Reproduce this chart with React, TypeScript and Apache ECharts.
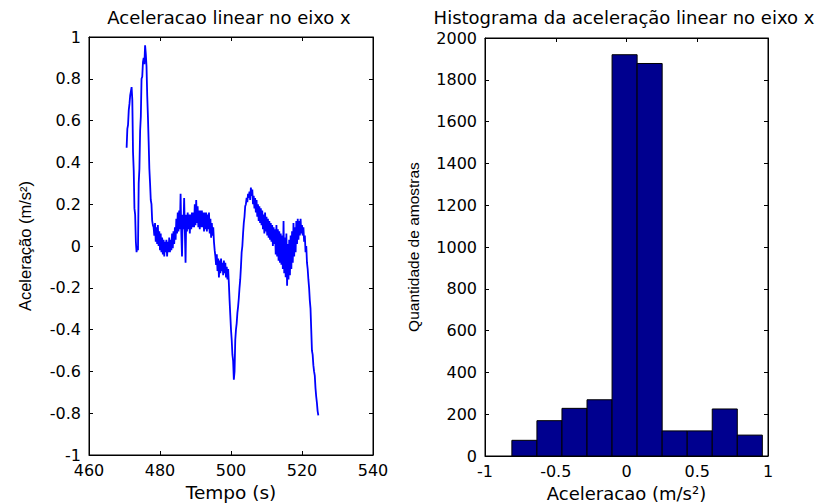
import React, { useEffect, useRef } from "react";
import * as echarts from "echarts";

// Aceleração linear no eixo x (m/s²), amostras a cada 0.2 s a partir de 470.6 s
const SAMPLE_START = 470.6;
const SAMPLE_STEP = 0.2;
const accelValues: number[] = [
  0.47, 0.56, 0.58, 0.65, 0.68, 0.72, 0.74, 0.76, 0.70, 0.45, // 470.6
  0.36, 0.18, 0.15, 0.02, -0.03, 0.0, -0.02, 0.30, 0.37, 0.55, // 472.6
  0.62, 0.80, 0.81, 0.88, 0.90, 0.87, 0.96, 0.92, 0.86, 0.72, // 474.6
  0.62, 0.50, 0.37, 0.30, 0.22, 0.20, 0.12, 0.10, 0.09, 0.05, // 476.6
  0.11, 0.02, 0.09, 0.01, 0.10, 0.00, 0.07, -0.02, 0.06, -0.03, // 478.6
  0.04, -0.04, 0.03, -0.05, 0.02, -0.03, 0.03, -0.05, 0.02, -0.03, // 480.6
  0.04, -0.03, 0.03, -0.02, 0.06, -0.01, 0.07, 0.01, 0.09, 0.03, // 482.6
  0.13, 0.06, 0.16, 0.07, 0.17, 0.08, 0.25, 0.06, -0.05, 0.15, // 484.6
  0.08, 0.23, 0.07, -0.08, 0.15, 0.07, 0.16, 0.08, 0.15, 0.06, // 486.6
  0.15, 0.08, 0.16, 0.09, 0.16, 0.09, 0.20, 0.10, 0.22, 0.11, // 488.6
  0.19, 0.09, 0.17, 0.08, 0.17, 0.09, 0.17, 0.09, 0.16, 0.07, // 490.6
  0.16, 0.08, 0.16, 0.07, 0.15, 0.08, 0.16, 0.06, 0.13, 0.04, // 492.6
  0.11, 0.05, 0.09, 0.02, -0.02, -0.05, -0.09, -0.04, -0.12, -0.06, // 494.6
  -0.15, -0.07, -0.13, -0.06, -0.12, -0.08, -0.14, -0.07, -0.13, -0.08, // 496.6
  -0.15, -0.10, -0.16, -0.11, -0.18, -0.26, -0.33, -0.40, -0.45, -0.52, // 498.6
  -0.55, -0.64, -0.60, -0.45, -0.40, -0.37, -0.32, -0.29, -0.25, -0.20, // 500.6
  -0.16, -0.10, -0.03, 0.00, 0.06, 0.11, 0.14, 0.19, 0.20, 0.23, // 502.6
  0.21, 0.25, 0.23, 0.26, 0.22, 0.28, 0.24, 0.27, 0.20, 0.24, // 504.6
  0.18, 0.23, 0.16, 0.22, 0.14, 0.20, 0.12, 0.19, 0.11, 0.18, // 506.6
  0.10, 0.17, 0.08, 0.15, 0.06, 0.16, 0.07, 0.14, 0.05, 0.13, // 508.6
  0.04, 0.12, 0.03, 0.11, 0.02, 0.10, 0.00, 0.09, 0.01, 0.08, // 510.6
  -0.04, 0.10, -0.05, 0.08, -0.07, 0.07, -0.08, 0.06, -0.09, 0.05, // 512.6
  -0.11, 0.12, -0.13, 0.04, -0.15, 0.06, -0.19, 0.01, -0.16, 0.03, // 514.6
  -0.14, 0.05, -0.11, 0.07, -0.08, 0.11, -0.05, 0.09, -0.03, 0.12, // 516.6
  0.01, 0.13, 0.03, 0.12, 0.05, 0.13, 0.06, 0.10, 0.05, 0.09, // 518.6
  0.02, 0.05, -0.03, 0.00, -0.08, -0.11, -0.16, -0.20, -0.26, -0.30, // 520.6
  -0.40, -0.50, -0.52, -0.57, -0.60, -0.62, -0.68, -0.72, -0.75, -0.79, // 522.6
  -0.81, // 524.6
];

// Histograma (10 classes entre o mínimo e o máximo)
const histCounts: number[] = [75, 169, 228, 269, 1920, 1878, 120, 120, 225, 100];

const titles = [
  "Aceleracao linear no eixo x",
  "Histograma da aceleração linear no eixo x",
];
const timeTicks = { min: 460, max: 540, interval: 20 };
const accelTicks = { min: -1, max: 1, interval: 0.2 };
const histXTicks = { min: -1, max: 1, interval: 0.5 };
const histYTicks = { min: 0, max: 2000, interval: 200 };

const BLACK = "#000";
const TICK_FONT = "DejaVu Sans";

function fmt(v: number) {
  return String(Math.round(v * 100) / 100);
}

function makeAxes(gridIndex: number, xt: any, yt: any, xName: string, yName: string, yGap: number, xGap: number, yNameSize: number, xNameSize: number) {
  const common = {
    gridIndex,
    splitLine: { show: false },
    axisLine: { show: true, onZero: false, lineStyle: { color: BLACK, width: 1 } },
    axisTick: { show: true, inside: true, length: 4, lineStyle: { color: BLACK } },
  };
  const xAxes = [
    {
      ...common,
      type: "value",
      position: "bottom",
      min: xt.min,
      max: xt.max,
      interval: xt.interval,
      axisLabel: { show: true, color: BLACK, fontFamily: TICK_FONT, fontSize: 16, lineHeight: 13, margin: 9, formatter: fmt },
      name: xName,
      nameLocation: "middle",
      nameGap: xGap,
      nameTextStyle: { color: BLACK, fontFamily: "DejaVu Sans", fontSize: xNameSize },
    },
    {
      ...common,
      type: "value",
      position: "top",
      min: xt.min,
      max: xt.max,
      interval: xt.interval,
      axisLabel: { show: false },
    },
  ];
  const yAxes = [
    {
      ...common,
      type: "value",
      position: "left",
      min: yt.min,
      max: yt.max,
      interval: yt.interval,
      axisLabel: { show: true, color: BLACK, fontFamily: TICK_FONT, fontSize: 16, lineHeight: 13, margin: 8, formatter: fmt },
      name: yName,
      nameLocation: "middle",
      nameGap: yGap,
      nameTextStyle: { color: BLACK, fontFamily: "Liberation Sans", fontSize: yNameSize },
    },
    {
      ...common,
      type: "value",
      position: "right",
      min: yt.min,
      max: yt.max,
      interval: yt.interval,
      axisLabel: { show: false },
    },
  ];
  return { xAxes, yAxes };
}

export default function App() {
  const ref = useRef<HTMLDivElement>(null);

  useEffect(() => {
    document.body.style.margin = "0";
    if (!ref.current) return;
    const chart = echarts.init(ref.current, null, { renderer: "svg" });

    const lineData = accelValues.map((v, i) => [
      Math.round((SAMPLE_START + i * SAMPLE_STEP) * 10) / 10,
      v,
    ]);

    const lo = Math.min(...accelValues);
    const hi = Math.max(...accelValues);
    const binW = (hi - lo) / histCounts.length;
    const histData = histCounts.map((c, i) => [lo + i * binW, lo + (i + 1) * binW, c]);

    const a0 = makeAxes(0, timeTicks, accelTicks, "Tempo (s)", "Aceleração (m/s²)", 56, 22, 16.5, 18.5);
    const a1 = makeAxes(1, histXTicks, histYTicks, "Aceleracao (m/s²)", "Quantidade de amostras", 64, 25, 15.5, 18);

    const titleStyle = { fontFamily: "DejaVu Sans", fontSize: 18, fontWeight: "normal", color: BLACK };
    const gridCommon = { show: true, borderColor: BLACK, borderWidth: 1, backgroundColor: "#fff", containLabel: false, outerBoundsMode: "none" };

    chart.setOption({
      animation: false,
      backgroundColor: "#fff",
      title: [
        { text: titles[0], left: 229, top: 8, padding: 0, textAlign: "center", textStyle: titleStyle },
        { text: titles[1], left: 624, top: 8, padding: 0, textAlign: "center", textStyle: titleStyle },
      ],
      grid: [
        { ...gridCommon, left: 89, top: 37, width: 284, height: 418 },
        { ...gridCommon, left: 485, top: 38, width: 283, height: 418 },
      ],
      xAxis: [...a0.xAxes, ...a1.xAxes],
      yAxis: [...a0.yAxes, ...a1.yAxes],
      series: [
        {
          type: "line",
          xAxisIndex: 0,
          yAxisIndex: 0,
          data: lineData,
          showSymbol: false,
          symbol: "none",
          lineStyle: { color: "#0000ff", width: 1.8 },
        },
        {
          type: "custom",
          xAxisIndex: 2,
          yAxisIndex: 2,
          data: histData,
          encode: { x: [0, 1], y: 2 },
          renderItem: (params: any, api: any) => {
            const p0 = api.coord([api.value(0), api.value(2)]);
            const p1 = api.coord([api.value(1), 0]);
            return {
              type: "rect",
              shape: { x: p0[0], y: p0[1], width: p1[0] - p0[0], height: p1[1] - p0[1] },
              style: { fill: "#00008F", stroke: BLACK, lineWidth: 1 },
            };
          },
        },
      ],
    });

    return () => chart.dispose();
  }, []);

  return <div ref={ref} style={{ width: 821, height: 504 }} />;
}
